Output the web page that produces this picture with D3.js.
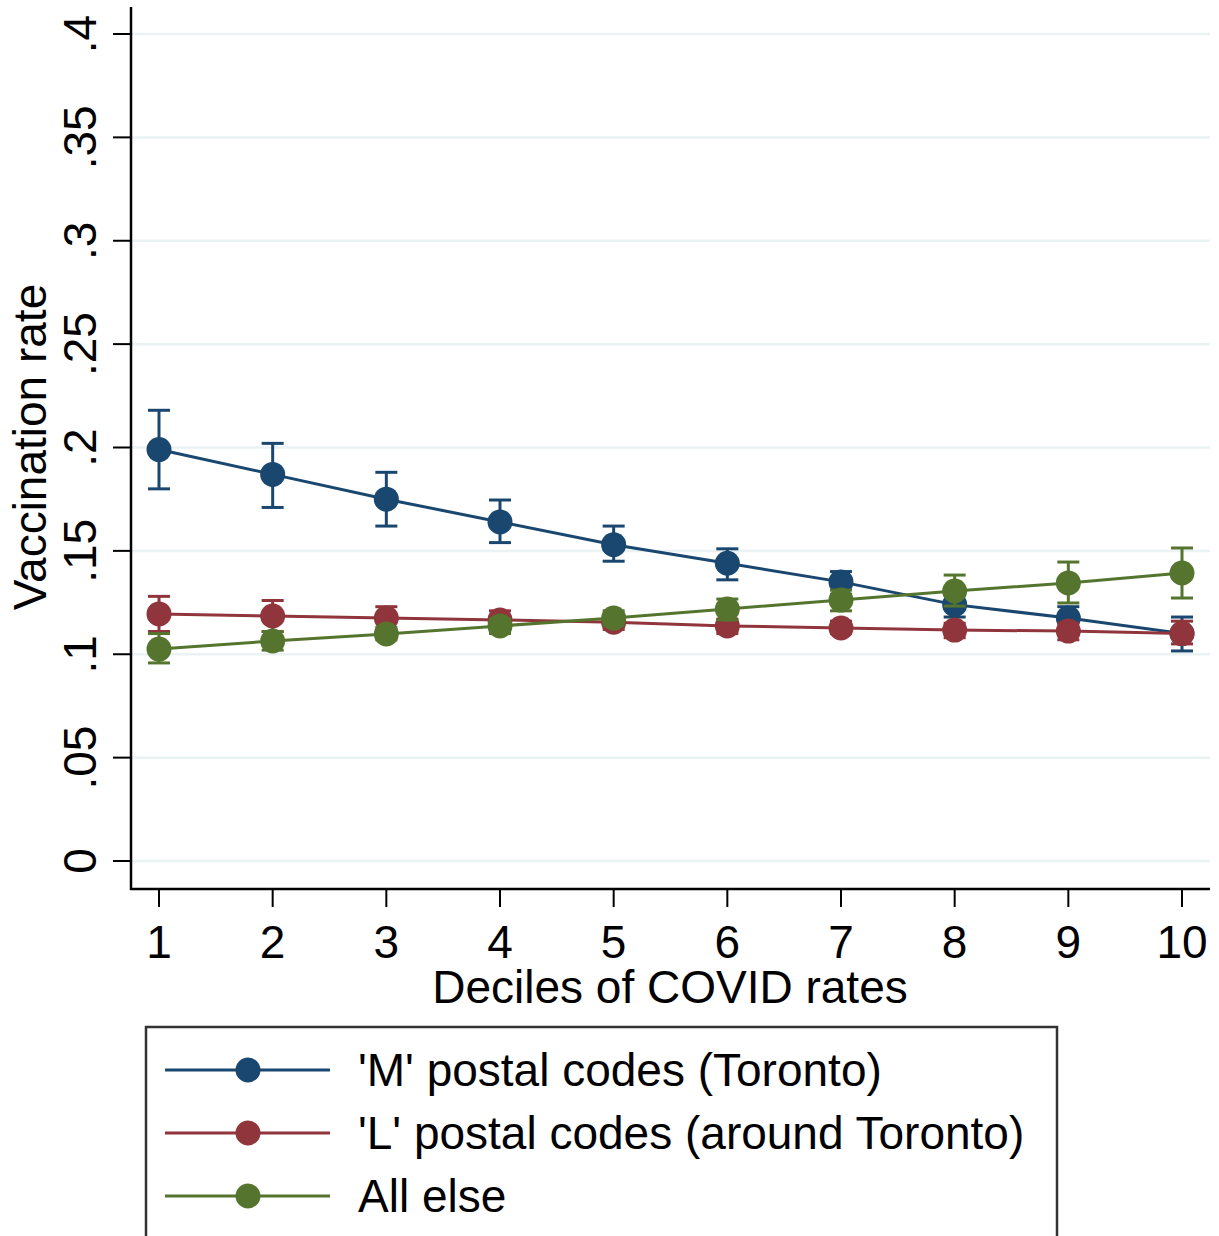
<!DOCTYPE html>
<html>
<head>
<meta charset="utf-8">
<script src="https://cdn.jsdelivr.net/npm/d3@7"></script>
<style>
  body { margin: 0; background: #fff; }
  svg text { font-family: "Liberation Sans", Arial, sans-serif; fill: #000; }
</style>
</head>
<body>
<svg id="chart" width="1219" height="1236"></svg>
<script>
var deciles = [1, 2, 3, 4, 5, 6, 7, 8, 9, 10];
var yTicks = [0, .05, .1, .15, .2, .25, .3, .35, .4];

var mRate = [.199, .187, .175, .164, .153, .144, .135, .124, .1175, .110];
var mLow  = [.180, .171, .162, .154, .145, .136, .129, .118, .112, .1016];
var mHigh = [.218, .202, .188, .1746, .162, .151, .140, .130, .123, .118];

var lRate = [.1195, .1185, .1175, .1166, .1155, .1137, .1127, .1117, .1112, .110];
var lLow  = [.111, .111, .112, .112, .112, .110, .110, .108, .107, .105];
var lHigh = [.128, .126, .123, .121, .119, .117, .116, .115, .115, .116];

var gRate = [.1025, .1064, .1098, .1137, .1175, .1219, .1262, .1306, .1345, .1393];
var gLow  = [.0958, .102, .107, .110, .114, .1166, .121, .1233, .1248, .1272];
var gHigh = [.110, .111, .113, .117, .121, .1267, .131, .1383, .1446, .1514];

var seriesNames = ["'M' postal codes (Toronto)", "'L' postal codes (around Toronto)", "All else"];
var seriesColors = ["#1a476f", "#90353b", "#55752f"];

var series = [
  {name: seriesNames[0], color: seriesColors[0], rate: mRate, low: mLow, high: mHigh},
  {name: seriesNames[1], color: seriesColors[1], rate: lRate, low: lLow, high: lHigh},
  {name: seriesNames[2], color: seriesColors[2], rate: gRate, low: gLow, high: gHigh}
];

var svg = d3.select("#chart");
var fontSize = "46px";

var x = d3.scaleLinear().domain([1, 10]).range([159, 1182]);
var y = d3.scaleLinear().domain([0, .4]).range([861, 34]);

// stata style labels: .05, .1 ... no leading zero
var fmt = function(v) {
  if (v === 0) return "0";
  return d3.format("")(+v.toFixed(2)).replace(/^0/, "");
};

// gridlines
svg.append("g").selectAll("line")
  .data(yTicks)
  .enter().append("line")
  .attr("x1", 131).attr("x2", 1210)
  .attr("y1", d => y(d)).attr("y2", d => y(d))
  .style("stroke", "#eaf2f3")
  .style("stroke-width", 2.5);

// y axis
var yAxis = svg.append("g").attr("transform", "translate(131,0)");
yAxis.append("line")
  .attr("x1", 0).attr("x2", 0).attr("y1", 7).attr("y2", 890)
  .style("stroke", "#000").style("stroke-width", 2.5);
yAxis.selectAll(".tick")
  .data(yTicks)
  .enter().append("line")
  .attr("x1", -18).attr("x2", 0)
  .attr("y1", d => y(d)).attr("y2", d => y(d))
  .style("stroke", "#000").style("stroke-width", 2);
yAxis.selectAll("text")
  .data(yTicks)
  .enter().append("text")
  .attr("transform", d => "translate(-35," + y(d) + ") rotate(-90)")
  .attr("text-anchor", "middle")
  .style("font-size", fontSize)
  .text(fmt);

svg.append("text")
  .attr("transform", "translate(46,447) rotate(-90)")
  .attr("text-anchor", "middle")
  .style("font-size", fontSize)
  .text("Vaccination rate");

// x axis
var xAxis = svg.append("g").attr("transform", "translate(0,889)");
xAxis.append("line")
  .attr("x1", 130).attr("x2", 1210).attr("y1", 0).attr("y2", 0)
  .style("stroke", "#000").style("stroke-width", 2.5);
xAxis.selectAll(".tick")
  .data(deciles)
  .enter().append("line")
  .attr("x1", d => x(d)).attr("x2", d => x(d))
  .attr("y1", 0).attr("y2", 18)
  .style("stroke", "#000").style("stroke-width", 2);
xAxis.selectAll("text")
  .data(deciles)
  .enter().append("text")
  .attr("x", d => x(d)).attr("y", 69)
  .attr("text-anchor", "middle")
  .style("font-size", fontSize)
  .text(d => d);

svg.append("text")
  .attr("x", 670).attr("y", 1003)
  .attr("text-anchor", "middle")
  .style("font-size", fontSize)
  .text("Deciles of COVID rates");

// series: caps, line, markers
var line = d3.line()
  .x((d, i) => x(deciles[i]))
  .y(d => y(d));

series.forEach(function(s) {
  var g = svg.append("g");
  var caps = g.append("g")
    .style("stroke", s.color).style("stroke-width", 3).style("fill", "none");
  caps.selectAll(".bar")
    .data(deciles)
    .enter().append("line")
    .attr("x1", d => x(d)).attr("x2", d => x(d))
    .attr("y1", (d, i) => y(s.low[i])).attr("y2", (d, i) => y(s.high[i]));
  caps.selectAll(".top")
    .data(deciles)
    .enter().append("line")
    .attr("x1", d => x(d) - 11).attr("x2", d => x(d) + 11)
    .attr("y1", (d, i) => y(s.high[i])).attr("y2", (d, i) => y(s.high[i]));
  caps.selectAll(".bot")
    .data(deciles)
    .enter().append("line")
    .attr("x1", d => x(d) - 11).attr("x2", d => x(d) + 11)
    .attr("y1", (d, i) => y(s.low[i])).attr("y2", (d, i) => y(s.low[i]));

  g.append("path")
    .attr("d", line(s.rate))
    .style("fill", "none")
    .style("stroke", s.color)
    .style("stroke-width", 3);

  g.selectAll("circle")
    .data(s.rate)
    .enter().append("circle")
    .attr("cx", (d, i) => x(deciles[i]))
    .attr("cy", d => y(d))
    .attr("r", 12.5)
    .style("fill", s.color);
});

// legend
var legend = svg.append("g");
legend.append("rect")
  .attr("x", 146).attr("y", 1027)
  .attr("width", 911).attr("height", 220)
  .style("fill", "#fff")
  .style("stroke", "#333")
  .style("stroke-width", 2.5);

var rows = legend.selectAll(".row")
  .data(series)
  .enter().append("g")
  .attr("transform", (d, i) => "translate(0," + (1070 + i * 63) + ")");
rows.append("line")
  .attr("x1", 165).attr("x2", 330)
  .style("stroke", d => d.color).style("stroke-width", 3);
rows.append("circle")
  .attr("cx", 248).attr("r", 12.5)
  .style("fill", d => d.color);
rows.append("text")
  .attr("x", 358).attr("y", 16)
  .style("font-size", fontSize)
  .text(d => d.name);
</script>
</body>
</html>
